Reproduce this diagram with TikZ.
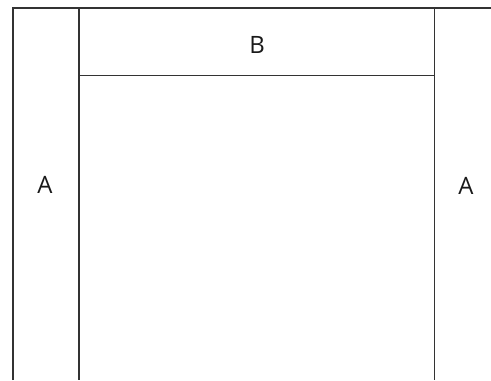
\documentclass[tikz,border=0pt]{standalone}
\usepackage{fontspec}
\setmainfont{Open Sans}
\begin{document}
\begin{tikzpicture}[x=1bp,y=-1bp,
  wall/.style={draw=black!80,line width=1.6bp},
  lbl/.style={font=\fontsize{24}{28}\selectfont,text=black!90,inner sep=0pt}]
\useasboundingbox (0,0) rectangle (491,380);
\coordinate (bl) at (13,380);
\coordinate (tl) at (13,8);
\coordinate (tr) at (491,8);
\coordinate (m1t) at (79,8);
\coordinate (m1b) at (79,380);
\coordinate (m2t) at (434.5,8);
\coordinate (m2b) at (434.5,380);
\coordinate (h1) at (79,75.5);
\coordinate (h2) at (434.5,75.5);
\draw[wall] (bl) -- (tl) -- (tr);
\draw[wall] (m1t) -- (m1b);
\draw[wall] (m2t) -- (m2b);
\draw[wall] (h1) -- (h2);
\node[lbl] (a1) at (45,185) {A};
\node[lbl] (b) at (257,45) {B};
\node[lbl] (a2) at (466,186) {A};
\end{tikzpicture}
\end{document}
